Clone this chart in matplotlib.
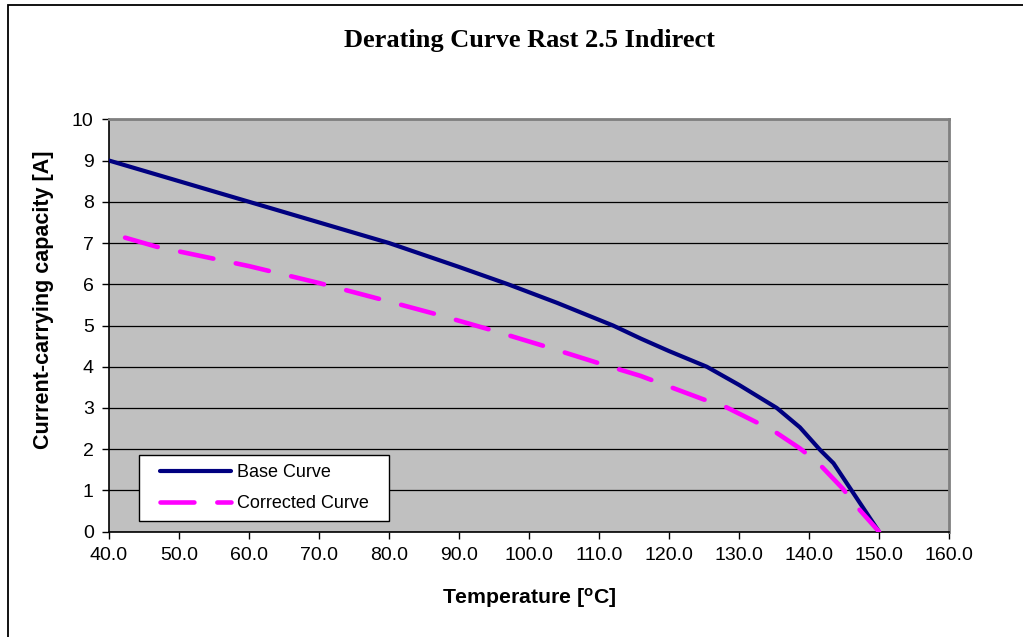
import matplotlib
matplotlib.use("Agg")
import matplotlib.pyplot as plt
from matplotlib.patches import Rectangle
from matplotlib.legend_handler import HandlerLine2D
import numpy as np

# values
base_t = [40, 50, 60, 70, 80, 90, 97, 104, 112, 116, 120, 125.4, 130, 135.4, 138.7, 141.6, 143.5, 150]
base_i = [9.0, 8.5, 8.0, 7.5, 7.0, 6.42, 6.0, 5.55, 5.0, 4.68, 4.38, 4.0, 3.56, 3.0, 2.53, 1.98, 1.66, 0.0]

corr_t = [42.3, 46.8, 60, 70, 78.7, 86.6, 94.2, 102, 109.7, 115.9, 124.9, 127.8, 132.3, 134.9, 138.7, 141.3, 144.9, 146.6, 150]
corr_i = [7.13, 6.91, 6.44, 6.03, 5.64, 5.28, 4.91, 4.51, 4.10, 3.78, 3.21, 3.05, 2.67, 2.45, 2.02, 1.67, 1.03, 0.65, 0.0]

xticks = np.arange(40, 161, 10)
yticks = np.arange(0, 11, 1)

plt.rcParams['font.family'] = ['Liberation Sans', 'DejaVu Sans']

fig = plt.figure(figsize=(10.23, 6.37), dpi=100)
fig.patches.append(Rectangle((8 / 1023, -0.1), 1.2, 1 - 5 / 637 + 0.1, transform=fig.transFigure,
                             fill=False, edgecolor='black', linewidth=1.3))

ax = fig.add_axes([109 / 1023, 1 - 531.7 / 637, 840 / 1023, 412.4 / 637])
ax.set_facecolor('#c0c0c0')

ax.plot(base_t, base_i, color='#000080', linewidth=3.0, label='Base Curve', zorder=3,
        solid_capstyle='round', solid_joinstyle='round')
ax.plot(corr_t, corr_i, color='#ff00ff', linewidth=3.3, label='Corrected Curve', zorder=3,
        linestyle=(0, (7.4, 5.0)), dash_capstyle='round', dash_joinstyle='round')

ax.set_xlim(40, 160)
ax.set_ylim(0, 10)
ax.set_xticks(xticks)
ax.set_xticklabels(['%.1f' % t for t in xticks])
ax.set_yticks(yticks)
ax.grid(axis='y', color='black', linewidth=0.9)
ax.set_axisbelow(True)

for s in ['top', 'right']:
    ax.spines[s].set_color('#808080')
    ax.spines[s].set_linewidth(2)
for s in ['left', 'bottom']:
    ax.spines[s].set_color('black')
    ax.spines[s].set_linewidth(1.2)

ax.tick_params(direction='out', length=5, width=1, labelsize=14, pad=6)

ax.set_xlabel('Temperature [$\\mathregular{^o}$C]', fontsize=15.3, fontweight='bold', labelpad=16)
ax.set_ylabel('Current-carrying capacity [A]', fontsize=15.5, fontweight='bold')
ax.yaxis.set_label_coords(-0.066, 0.562)

fig.text(529 / 1023, 1 - 41 / 637, 'Derating Curve Rast 2.5 Indirect', ha='center', va='center',
         fontsize=19, fontweight='bold', family='Liberation Serif')

hm = HandlerLine2D(xpad=0.66)
leg = ax.legend(loc='lower left', bbox_to_anchor=((139 - 109) / 840, (531.7 - 521) / 412.4, 250 / 840, 64 / 412.4),
                mode='expand', fancybox=False, framealpha=1, edgecolor='black', fontsize=13,
                handlelength=4.6, handletextpad=0.35, borderaxespad=0, labelspacing=0.75,
                borderpad=0.5, handler_map={ax.lines[0]: hm, ax.lines[1]: hm})
leg.get_frame().set_linewidth(1)

fig.savefig('out.png', dpi=100)
